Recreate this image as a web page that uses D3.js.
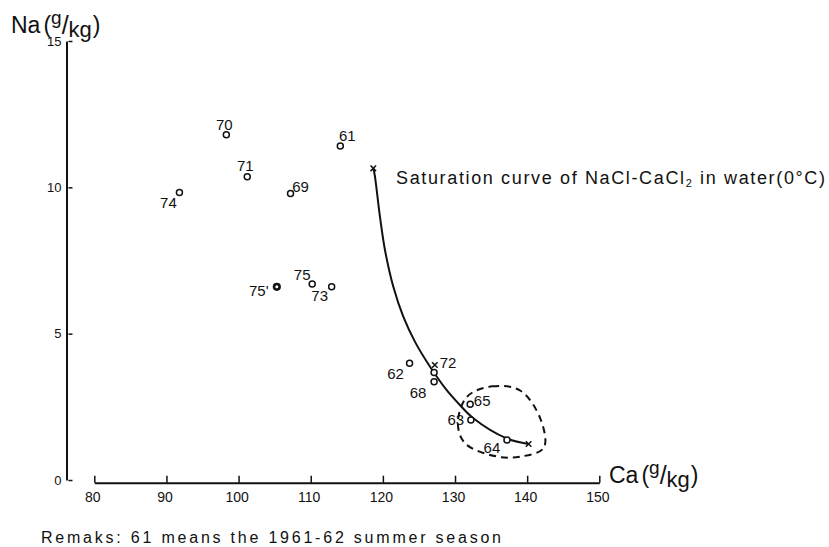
<!DOCTYPE html>
<html>
<head>
<meta charset="utf-8">
<script src="https://cdn.jsdelivr.net/npm/d3@7"></script>
<style>
  body { margin: 0; background: #fff; }
  text { font-family: "Liberation Sans", Arial, sans-serif; fill: #111; }
</style>
</head>
<body>
<script>
// season labels and measured concentrations (g/kg)
var seasons = ["61", "62", "63", "64", "65", "68", "69", "70", "71", "72", "73", "74", "75", "75'"];
var caValues = [114.1, 123.7, 132.2, 137.2, 132.1, 127.1, 107.2, 98.3, 101.2, 127.1, 112.9, 91.8, 110.2, 105.3];
var naValues = [11.41, 3.99, 2.05, 1.37, 2.59, 3.36, 9.79, 11.8, 10.36, 3.67, 6.6, 9.82, 6.7, 6.6];

// saturation curve of NaCl-CaCl2 in water at 0C
var curveCa = [118.67, 118.87, 119.6, 120.29, 121.45, 122.83, 124.46, 126.54, 128.85, 130.24, 132.54, 137.17, 140.16];
var curveNa = [10.65, 10.42, 8.99, 7.86, 6.6, 5.58, 4.72, 3.87, 3.07, 2.68, 2.11, 1.42, 1.23];

// the dashed loop round 63, 64, 65
var loopCa = [131.69, 135.15, 139.08, 141.9, 142.3, 139.08, 135.85, 131.4, 130.4];
var loopNa = [2.85, 3.2, 3.05, 2.05, 1.1, 0.8, 0.8, 1.25, 1.94];

// crosses drawn on the curve
var crossCa = [118.67, 140.2, 127.2];
var crossNa = [10.65, 1.23, 3.93];

var xTicks = [80, 90, 100, 110, 120, 130, 140, 150];
var yTicks = [0, 5, 10, 15];

// where each season label sits relative to its point (px)
var labelDx = [7, -14, -15, -15, 12, -16, 10, -2, -2, 14, -12, -11, -10, -18];
var labelDy = [-10, 10, 0, 8, -4, 11, -7, -10, -11, -10, 9, 10, -9, 4];

var width = 829, height = 547;

var x = d3.scaleLinear().domain([80, 150]).range([94.3, 599.3]);
var y = d3.scaleLinear().domain([0, 15]).range([480, 41]);

var svg = d3.select("body").append("svg")
    .attr("width", width)
    .attr("height", height);

// y axis, ticks pointing inward
var yAxis = svg.append("g")
    .attr("transform", "translate(66.5,0)")
    .call(d3.axisLeft(y).tickValues(yTicks).tickSizeInner(-6).tickSizeOuter(0).tickPadding(5));
yAxis.select(".domain").attr("stroke", "#111").attr("stroke-width", 2);
yAxis.selectAll(".tick line").attr("stroke", "#111").attr("stroke-width", 1.5)
    .attr("x1", 2);
yAxis.selectAll(".tick text").style("font-size", "13px").attr("fill", "#111");

// x axis, separate from the y axis
var xAxis = svg.append("g")
    .attr("transform", "translate(0,482.7)")
    .call(d3.axisBottom(x).tickValues(xTicks).tickSizeInner(-7).tickSizeOuter(0).tickPadding(9));
xAxis.select(".domain").attr("stroke", "#111").attr("stroke-width", 2);
xAxis.selectAll(".tick line").attr("stroke", "#111").attr("stroke-width", 1.5);
xAxis.selectAll(".tick text").style("font-size", "14px").attr("fill", "#111").attr("dx", -2);

// axis titles: name(g/kg) with the raised g and lowered kg
function unitLabel(g, px, py, name) {
  var t = g.append("text").attr("x", px).attr("y", py).style("font-size", "23px");
  t.append("tspan").text(name);
  t.append("tspan").attr("dx", 3).text("(");
  t.append("tspan").attr("dy", -9).style("font-size", "19px").text("g");
  t.append("tspan").attr("dy", 10).style("font-size", "25px").text("/");
  t.append("tspan").attr("dy", 3).style("font-size", "22px").text("kg");
  t.append("tspan").attr("dx", 1).attr("dy", -4).text(")");
}
unitLabel(svg, 11, 33, "Na");
unitLabel(svg, 609, 483, "Ca");

// saturation curve
var line = d3.line()
    .x(function(d) { return x(d[0]); })
    .y(function(d) { return y(d[1]); })
    .curve(d3.curveCatmullRom.alpha(0.5));

svg.append("path")
    .datum(curveCa.map(function(c, i) { return [c, curveNa[i]]; }))
    .attr("d", line)
    .attr("fill", "none")
    .attr("stroke", "#111")
    .attr("stroke-width", 2);

// dashed loop
var loop = d3.line()
    .x(function(d) { return x(d[0]); })
    .y(function(d) { return y(d[1]); })
    .curve(d3.curveCatmullRomClosed.alpha(0.5));

svg.append("path")
    .datum(loopCa.map(function(c, i) { return [c, loopNa[i]]; }))
    .attr("d", loop)
    .attr("fill", "none")
    .attr("stroke", "#111")
    .attr("stroke-width", 2)
    .attr("stroke-dasharray", "7,5");

// crosses
svg.selectAll(".cross")
    .data(crossCa.map(function(c, i) { return [c, crossNa[i]]; }))
  .enter().append("path")
    .attr("class", "cross")
    .attr("transform", function(d) { return "translate(" + x(d[0]) + "," + y(d[1]) + ")"; })
    .attr("d", d3.symbol().type(d3.symbolX).size(22))
    .attr("fill", "none")
    .attr("stroke", "#111")
    .attr("stroke-width", 1.5);

// points
var points = seasons.map(function(s, i) { return { season: s, ca: caValues[i], na: naValues[i], i: i }; });

svg.selectAll(".pt")
    .data(points)
  .enter().append("circle")
    .attr("class", "pt")
    .attr("cx", function(d) { return x(d.ca); })
    .attr("cy", function(d) { return y(d.na); })
    .attr("r", function(d) { return d.season == "75'" ? 2.8 : 3; })
    .attr("fill", "#fff")
    .attr("stroke", "#111")
    .attr("stroke-width", function(d) { return d.season == "75'" ? 2.6 : 1.5; });

svg.selectAll(".lbl")
    .data(points)
  .enter().append("text")
    .attr("class", "lbl")
    .attr("x", function(d) { return x(d.ca) + labelDx[d.i]; })
    .attr("y", function(d) { return y(d.na) + labelDy[d.i]; })
    .attr("text-anchor", "middle")
    .attr("dy", "0.36em")
    .style("font-size", "15px")
    .text(function(d) { return d.season; });

// curve annotation
var sat = svg.append("text")
    .attr("x", 396)
    .attr("y", 184)
    .attr("textLength", 429)
    .attr("lengthAdjust", "spacing")
    .style("font-size", "18px");
sat.append("tspan").text("Saturation curve of NaCl-CaCl");
sat.append("tspan").attr("dy", 3).style("font-size", "11px").text("2");
sat.append("tspan").attr("dy", -3).text(" in water(0\u00b0C)");

// remark
svg.append("text")
    .attr("x", 41)
    .attr("y", 543)
    .attr("textLength", 460)
    .attr("lengthAdjust", "spacing")
    .style("font-size", "16px")
    .text("Remaks: 61 means the 1961-62 summer season");
</script>
</body>
</html>
